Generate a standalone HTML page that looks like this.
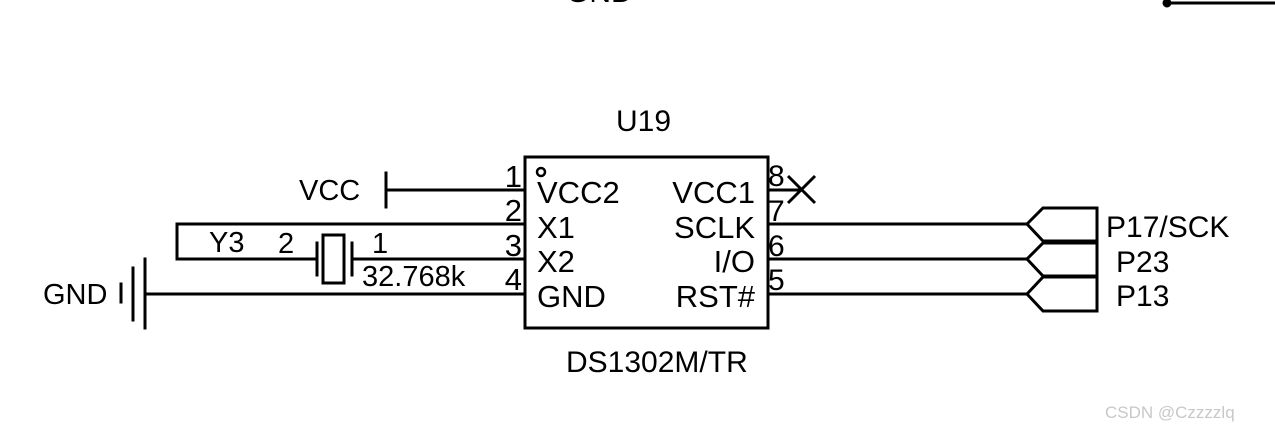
<!DOCTYPE html>
<html><head><meta charset="utf-8"><style>
html,body{margin:0;padding:0;background:#fff;}
svg{display:block;}
text{font-family:"Liberation Sans",Arial,sans-serif;fill:#000;}
</style></head><body>
<svg width="1275" height="433" viewBox="0 0 1275 433" xmlns="http://www.w3.org/2000/svg">
<g stroke="#000" stroke-width="3" fill="none" stroke-linecap="square">
<text x="566" y="2" font-size="30" stroke="none">GND</text>
<line x1="1167" y1="3" x2="1275" y2="3"/>
<circle cx="1167" cy="3" r="3" fill="#000"/>
<rect x="525" y="157" width="243" height="171"/>
<circle cx="541" cy="172" r="4" stroke-width="2.5"/>
<line x1="386" y1="173" x2="386" y2="207"/>
<line x1="386" y1="190" x2="525" y2="190"/>
<polyline points="525,224 177,224 177,259 317,259"/>
<line x1="317" y1="243" x2="317" y2="275"/>
<rect x="323" y="235" width="21" height="48"/>
<line x1="352" y1="243" x2="352" y2="275"/>
<line x1="352" y1="259" x2="525" y2="259"/>
<line x1="145" y1="294" x2="525" y2="294"/>
<line x1="145" y1="259" x2="145" y2="328"/>
<line x1="133" y1="268" x2="133" y2="320"/>
<line x1="121" y1="284" x2="121" y2="302"/>
<line x1="768" y1="190" x2="800" y2="190"/>
<line x1="788" y1="176" x2="815" y2="203" stroke-linecap="butt"/>
<line x1="815" y1="176" x2="788" y2="203" stroke-linecap="butt"/>
<line x1="768" y1="224" x2="1027" y2="224"/>
<line x1="768" y1="259" x2="1027" y2="259"/>
<line x1="768" y1="294" x2="1027" y2="294"/>
<polygon points="1027,224 1043,208 1097,208 1097,241 1043,241" stroke-linejoin="miter"/>
<polygon points="1027,259 1043,243 1097,243 1097,276 1043,276"/>
<polygon points="1027,294 1043,277 1097,277 1097,311 1043,311"/>
</g>
<text x="616" y="131" font-size="30">U19</text>
<text x="566" y="372" font-size="30">DS1302M/TR</text>
<text x="537" y="203" font-size="31">VCC2</text>
<text x="537" y="238" font-size="31">X1</text>
<text x="537" y="272" font-size="31">X2</text>
<text x="537" y="307" font-size="31">GND</text>
<g text-anchor="end" font-size="31">
<text x="755" y="203">VCC1</text>
<text x="755" y="238">SCLK</text>
<text x="755" y="272">I/O</text>
<text x="755" y="307">RST#</text>
<text x="522" y="187">1</text>
<text x="522" y="221">2</text>
<text x="522" y="256">3</text>
<text x="522" y="290">4</text>
</g>
<g font-size="30">
<text x="768" y="186">8</text>
<text x="768" y="221">7</text>
<text x="768" y="256">6</text>
<text x="768" y="290">5</text>
<text x="1106" y="237">P17/SCK</text>
<text x="1116" y="272">P23</text>
<text x="1116" y="306">P13</text>
</g>
<g font-size="29">
<text x="299" y="200">VCC</text>
<text x="43" y="304">GND</text>
<text x="209" y="252">Y3</text>
<text x="278" y="253">2</text>
<text x="372" y="253">1</text>
<text x="362" y="286">32.768k</text>
</g>
<text x="1105" y="418" font-size="17" style="fill:#c8c8c8">CSDN @Czzzzlq</text>
</svg>
</body></html>
